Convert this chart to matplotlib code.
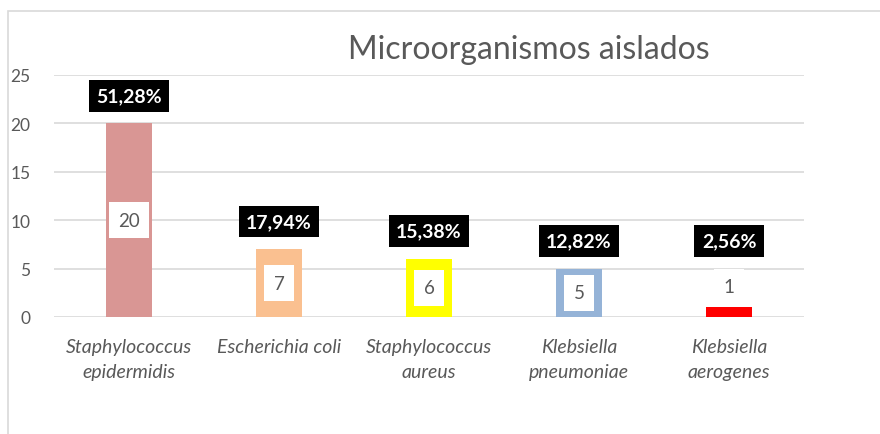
import matplotlib.pyplot as plt
from matplotlib.patches import Rectangle

# data
categories = ["Staphylococcus\nepidermidis", "Escherichia coli", "Staphylococcus\naureus",
              "Klebsiella\npneumoniae", "Klebsiella\naerogenes"]
counts = [20, 7, 6, 5, 1]
percent_labels = ["51,28%", "17,94%", "15,38%", "12,82%", "2,56%"]
bar_colors = ["#D99694", "#FAC090", "#FFFF00", "#95B3D7", "#FF0000"]

plt.rcParams['font.family'] = ['Lato', 'DejaVu Sans']
gray = "#595959"

fig = plt.figure(figsize=(8.8, 4.35), dpi=100)
# chart frame (light gray border, running off the right/bottom edges)
fig.patches.append(Rectangle((8 / 880, -0.1), 1.2, 1 - 12 / 435 + 0.1,
                             transform=fig.transFigure, fill=False,
                             edgecolor="#D9D9D9", linewidth=1.2))

ax = fig.add_axes([54 / 880, 1 - 318 / 435, 750 / 880, 242 / 435])
x = list(range(len(counts)))
ax.bar(x, counts, width=0.31, color=bar_colors, zorder=2)

ax.set_ylim(0, 25)
ax.set_xlim(-0.5, len(counts) - 0.5)
ax.set_yticks(range(0, 26, 5))
ax.yaxis.grid(True, color="#D9D9D9", linewidth=1.2, zorder=0)
ax.set_axisbelow(True)
for side in ["top", "right", "left", "bottom"]:
    ax.spines[side].set_visible(False)
ax.tick_params(axis="y", length=0, pad=17, labelsize=12.5, labelcolor=gray)
ax.tick_params(axis="x", length=0, pad=15)
ax.set_xticks(x)
ax.set_xticklabels(categories, fontsize=14, color=gray, style="italic",
                   linespacing=1.55)

value_box = dict(boxstyle="square,pad=0.5", facecolor="white", edgecolor="none")
pct_box = dict(boxstyle="square,pad=0.38", facecolor="black", edgecolor="none")

for xi, v, pct in zip(x, counts, percent_labels):
    if v >= 3:
        # value label centered inside the bar
        ax.text(xi, v / 2, str(v), ha="center", va="center", fontsize=13.5,
                color=gray, bbox=value_box, zorder=3)
        ax.annotate(pct, (xi, v), xytext=(0, 20), textcoords="offset points",
                    ha="center", va="center", fontsize=14, fontweight="bold",
                    color="white", bbox=pct_box, zorder=4)
    else:
        # small bar: value label sits above it, percentage above that
        ax.annotate(str(v), (xi, v), xytext=(0, 15), textcoords="offset points",
                    ha="center", va="center", fontsize=13.5, color=gray,
                    bbox=value_box, zorder=3)
        ax.annotate(pct, (xi, v), xytext=(0, 48), textcoords="offset points",
                    ha="center", va="center", fontsize=14, fontweight="bold",
                    color="white", bbox=pct_box, zorder=4)

fig.text(529 / 880, 1 - 50 / 435, "Microorganismos aislados", ha="center",
         va="center", fontsize=23, color=gray)

fig.savefig("out.png", dpi=100)
